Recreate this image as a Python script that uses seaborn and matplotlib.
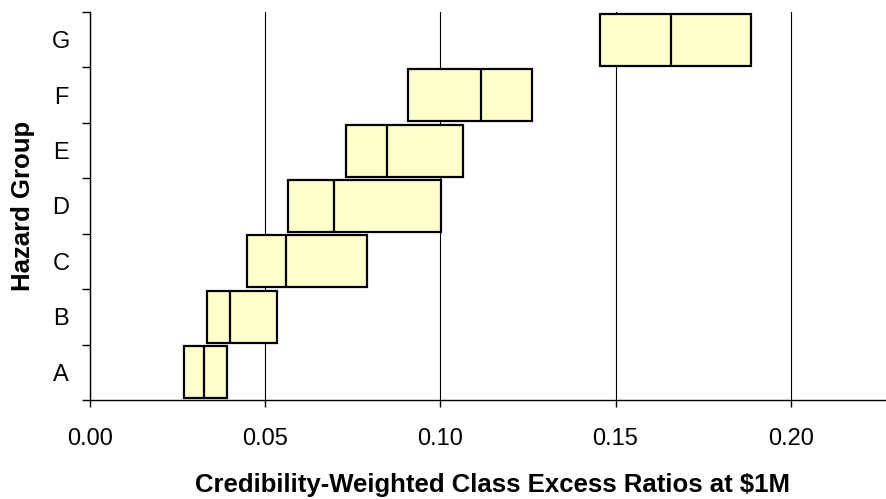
import numpy as np
import pandas as pd
import seaborn as sns
import matplotlib.pyplot as plt

# hazard groups, low / median / high of the class excess ratios
groups = ['G', 'F', 'E', 'D', 'C', 'B', 'A']
low = [0.1456, 0.0908, 0.0731, 0.0566, 0.0447, 0.0333, 0.0269]
median = [0.1658, 0.1115, 0.0847, 0.0697, 0.0560, 0.0400, 0.0326]
high = [0.1886, 0.1263, 0.1064, 0.1001, 0.0790, 0.0533, 0.0390]

# five points per group so that Q1 = low, median = median, Q3 = high
rows = []
for g, lo, md, hi in zip(groups, low, median, high):
    for v in [lo, lo, md, hi, hi]:
        rows.append({'group': g, 'ratio': v})
df = pd.DataFrame(rows)

plt.rcParams['font.family'] = ['Liberation Sans', 'DejaVu Sans']

fig = plt.figure(figsize=(8.86, 4.99), dpi=100)
ax = fig.add_axes([90 / 886, 1 - 400 / 499, 796 / 886, 388 / 499])

sns.boxplot(
    data=df,
    x='ratio',
    y='group',
    order=groups,
    orient='h',
    width=0.94,
    whis=0,
    showcaps=False,
    showfliers=False,
    saturation=1,
    color='#FFFFCC',
    linecolor='black',
    linewidth=1.6,
    whiskerprops={'linewidth': 0},
    ax=ax,
)

ax.set_xlim(0, 0.2272)
ax.set_ylim(6.5, -0.5)
ax.set_xticks([0.0, 0.05, 0.10, 0.15, 0.20])
ax.set_xticklabels(['0.00', '0.05', '0.10', '0.15', '0.20'])
ax.set_yticks(range(len(groups)))
ax.set_yticklabels(groups)
ax.set_yticks(np.arange(-0.5, len(groups), 1), minor=True)

ax.set_axisbelow(True)
ax.grid(axis='x', color='black', linewidth=0.8)
ax.grid(axis='y', visible=False)

for side in ['top', 'right']:
    ax.spines[side].set_visible(False)
for side in ['left', 'bottom']:
    ax.spines[side].set_color('black')
    ax.spines[side].set_linewidth(1.0)

ax.tick_params(axis='x', which='major', length=5, width=1, pad=15.5, labelsize=17)
ax.tick_params(axis='y', which='major', length=0, pad=21, labelsize=17)
ax.tick_params(axis='y', which='minor', length=6, width=1)
for lbl in ax.get_yticklabels():
    lbl.set_horizontalalignment('center')

ax.set_xlabel('Credibility-Weighted Class Excess Ratios at $1M', fontsize=18.5, fontweight='bold')
ax.set_ylabel('Hazard Group', fontsize=18.5, fontweight='bold')
ax.xaxis.set_label_coords(0.5057, -0.188)
ax.xaxis.label.set_verticalalignment('top')
ax.yaxis.set_label_coords(-0.0695, 0.5)

fig.savefig('out.png', dpi=100)
